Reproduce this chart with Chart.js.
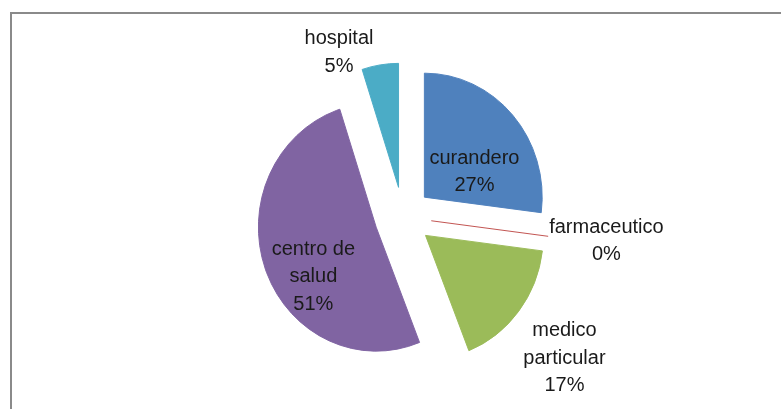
<!DOCTYPE html>
<html>
<head>
<meta charset="utf-8">
<script src="https://cdn.jsdelivr.net/npm/chart.js@4/dist/chart.umd.min.js"></script>
<style>
    html, body { margin: 0; padding: 0; background: #fff; }
    #wrap { position: relative; width: 781px; height: 409px; overflow: hidden; }
    #frame { position: absolute; left: 10px; top: 12px; right: -5px; bottom: -5px;
             border-left: 2px solid #8a8a8a; border-top: 2px solid #8a8a8a; }
    #chart { position: absolute; left: 0; top: 0; }
</style>
</head>
<body>
<div id="wrap">
    <div id="frame"></div>
    <canvas id="chart" width="781" height="409"></canvas>
</div>
<script>
// datos del grafico (porcentajes)
const categorias = ['curandero', 'farmaceutico', 'medico particular', 'centro de salud', 'hospital'];
const valores = [27, 0, 17, 51, 5];
const colores = ['#4f81bd', '#c0504d', '#9bbb59', '#8064a2', '#4bacc6'];

// separacion de las porciones (px), achatado horizontal y posicion de etiquetas
const separacion = 30;
const escalaX = 0.95;
const etiquetas = [
    { dist: 0.69, giro: 8 },
    { dist: 1.65, giro: -1 },
    { dist: 1.72, giro: 3 },
    { dist: 0.86, giro: -13 },
    { dist: 1.44, giro: -12 }
];

function partirTexto(ctx, texto, maxAncho) {
    const palabras = texto.split(' ');
    const lineas = [];
    let actual = '';
    palabras.forEach(p => {
        const prueba = actual ? actual + ' ' + p : p;
        if (actual && ctx.measureText(prueba).width > maxAncho) {
            lineas.push(actual);
            actual = p;
        } else {
            actual = prueba;
        }
    });
    if (actual) lineas.push(actual);
    return lineas;
}

function centro(chart) {
    const area = chart.chartArea;
    return { cx: (area.left + area.right) / 2, cy: (area.top + area.bottom) / 2 };
}

// mueve cada porcion hacia afuera (pastel explotado)
const explotar = {
    id: 'explotar',
    beforeDatasetsDraw(chart) {
        const { cx, cy } = centro(chart);
        const ctx = chart.ctx;
        chart.getDatasetMeta(0).data.forEach(arc => {
            const mid = (arc.startAngle + arc.endAngle) / 2;
            arc.x = cx + Math.cos(mid) * separacion;
            arc.y = cy + Math.sin(mid) * separacion;
        });
        ctx.save();
        ctx.translate(cx, cy);
        ctx.scale(escalaX, 1);
        ctx.translate(-cx, -cy);
    },
    afterDatasetsDraw(chart) {
        const ctx = chart.ctx;
        const { cx, cy } = centro(chart);
        const meta = chart.getDatasetMeta(0);
        const total = valores.reduce((a, b) => a + b, 0);
        // porcion de valor cero: solo una linea
        meta.data.forEach((arc, i) => {
            if (valores[i] !== 0) return;
            ctx.strokeStyle = colores[i];
            ctx.lineWidth = 1;
            ctx.beginPath();
            ctx.moveTo(arc.x, arc.y);
            ctx.lineTo(arc.x + Math.cos(arc.startAngle) * arc.outerRadius,
                       arc.y + Math.sin(arc.startAngle) * arc.outerRadius);
            ctx.stroke();
        });
        ctx.restore();

        ctx.save();
        ctx.font = '20px "Liberation Sans", Arial, sans-serif';
        ctx.fillStyle = '#1a1a1a';
        ctx.textAlign = 'center';
        ctx.textBaseline = 'middle';
        meta.data.forEach((arc, i) => {
            const mid = (arc.startAngle + arc.endAngle) / 2 + etiquetas[i].giro * Math.PI / 180;
            const d = etiquetas[i].dist * arc.outerRadius;
            const x = cx + Math.cos(mid) * d;
            const y = cy + Math.sin(mid) * d + 2;
            const lineas = partirTexto(ctx, categorias[i], 100);
            lineas.push(Math.round(valores[i] / total * 100) + '%');
            const alto = 27.5;
            const y0 = y - (lineas.length - 1) * alto / 2;
            lineas.forEach((l, k) => ctx.fillText(l, x, y0 + k * alto));
        });
        ctx.restore();
    }
};

const ctx = document.getElementById('chart').getContext('2d');
const grafico = new Chart(ctx, {
    type: 'pie',
    data: {
        labels: categorias,
        datasets: [{
            data: valores,
            backgroundColor: colores,
            borderColor: colores,
            borderWidth: 1
        }]
    },
    options: {
        responsive: false,
        animation: false,
        radius: 124,
        layout: { padding: { left: 25, top: 25, right: 0, bottom: 0 } },
        plugins: {
            legend: { display: false },
            tooltip: { enabled: false }
        },
        events: []
    },
    plugins: [explotar]
});
</script>
</body>
</html>
